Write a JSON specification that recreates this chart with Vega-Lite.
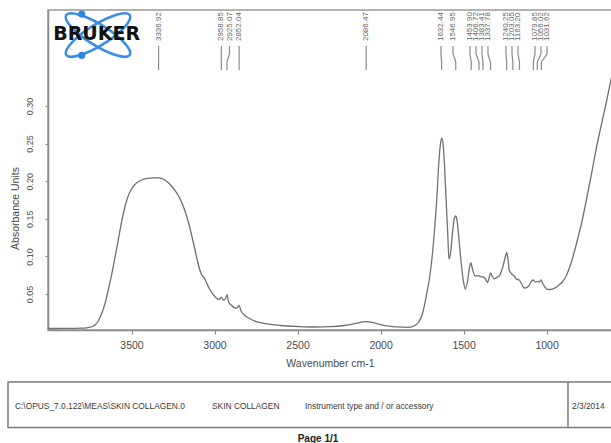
{
  "$schema": "https://vega.github.io/schema/vega-lite/v6.json",
  "width": 564,
  "height": 320,
  "autosize": {"type": "none"},
  "padding": {"left": 48, "top": 10, "right": 0, "bottom": 113},
  "background": "white",
  "config": {
    "font": "Liberation Sans",
    "view": {"stroke": "#9a9a9a", "strokeWidth": 1.5},
    "axis": {"grid": false, "domainColor": "#8a8a8a", "domainWidth": 1.5, "tickColor": "#8a8a8a", "tickWidth": 1.2, "labelColor": "#4a4a4a", "titleColor": "#4a4a4a", "titleFontWeight": "normal"}
  },
  "datasets": {
    "spectrum": [
      {"wn": 4003, "a": 0.0041}, {"wn": 3950, "a": 0.0041}, {"wn": 3900, "a": 0.0042}, {"wn": 3850, "a": 0.0043},
      {"wn": 3800, "a": 0.0045}, {"wn": 3770, "a": 0.005}, {"wn": 3750, "a": 0.0058}, {"wn": 3730, "a": 0.0075},
      {"wn": 3715, "a": 0.0098}, {"wn": 3700, "a": 0.0141}, {"wn": 3685, "a": 0.021}, {"wn": 3670, "a": 0.03},
      {"wn": 3655, "a": 0.041}, {"wn": 3640, "a": 0.0553}, {"wn": 3620, "a": 0.0753}, {"wn": 3600, "a": 0.0979},
      {"wn": 3580, "a": 0.1218}, {"wn": 3560, "a": 0.1457}, {"wn": 3540, "a": 0.1657}, {"wn": 3520, "a": 0.1803},
      {"wn": 3500, "a": 0.1896}, {"wn": 3470, "a": 0.1976}, {"wn": 3440, "a": 0.2016}, {"wn": 3400, "a": 0.2038},
      {"wn": 3370, "a": 0.2045}, {"wn": 3337, "a": 0.2044}, {"wn": 3300, "a": 0.2016}, {"wn": 3270, "a": 0.1963},
      {"wn": 3240, "a": 0.1883}, {"wn": 3210, "a": 0.1777}, {"wn": 3180, "a": 0.1617}, {"wn": 3150, "a": 0.1391},
      {"wn": 3120, "a": 0.1112}, {"wn": 3100, "a": 0.0912}, {"wn": 3085, "a": 0.0795}, {"wn": 3075, "a": 0.0745},
      {"wn": 3062, "a": 0.0715}, {"wn": 3050, "a": 0.066}, {"wn": 3030, "a": 0.0566}, {"wn": 3010, "a": 0.05},
      {"wn": 2990, "a": 0.0447}, {"wn": 2972, "a": 0.0425}, {"wn": 2959, "a": 0.0458}, {"wn": 2946, "a": 0.0418},
      {"wn": 2936, "a": 0.0432}, {"wn": 2925, "a": 0.0487}, {"wn": 2915, "a": 0.0394}, {"wn": 2900, "a": 0.0354},
      {"wn": 2880, "a": 0.032}, {"wn": 2866, "a": 0.0312}, {"wn": 2852, "a": 0.0347}, {"wn": 2840, "a": 0.0274},
      {"wn": 2820, "a": 0.022}, {"wn": 2790, "a": 0.0174}, {"wn": 2750, "a": 0.0134}, {"wn": 2700, "a": 0.0108},
      {"wn": 2600, "a": 0.0081}, {"wn": 2500, "a": 0.0068}, {"wn": 2400, "a": 0.0061}, {"wn": 2300, "a": 0.0066},
      {"wn": 2220, "a": 0.0081}, {"wn": 2150, "a": 0.0108}, {"wn": 2087, "a": 0.0134}, {"wn": 2040, "a": 0.0117},
      {"wn": 1980, "a": 0.0083}, {"wn": 1900, "a": 0.0063}, {"wn": 1840, "a": 0.0057}, {"wn": 1800, "a": 0.0074},
      {"wn": 1770, "a": 0.0128}, {"wn": 1750, "a": 0.022}, {"wn": 1735, "a": 0.0354}, {"wn": 1720, "a": 0.0527},
      {"wn": 1705, "a": 0.0713}, {"wn": 1690, "a": 0.0979}, {"wn": 1675, "a": 0.1351}, {"wn": 1660, "a": 0.1816},
      {"wn": 1648, "a": 0.2282}, {"wn": 1640, "a": 0.2481}, {"wn": 1632, "a": 0.2574}, {"wn": 1625, "a": 0.2521},
      {"wn": 1615, "a": 0.2215}, {"wn": 1605, "a": 0.175}, {"wn": 1595, "a": 0.1285}, {"wn": 1588, "a": 0.0965},
      {"wn": 1580, "a": 0.1019}, {"wn": 1565, "a": 0.135}, {"wn": 1555, "a": 0.151}, {"wn": 1547, "a": 0.1537},
      {"wn": 1540, "a": 0.1484}, {"wn": 1530, "a": 0.1285}, {"wn": 1515, "a": 0.0926}, {"wn": 1500, "a": 0.066},
      {"wn": 1490, "a": 0.0566}, {"wn": 1475, "a": 0.0686}, {"wn": 1465, "a": 0.0846}, {"wn": 1456, "a": 0.0912},
      {"wn": 1445, "a": 0.082}, {"wn": 1430, "a": 0.074}, {"wn": 1410, "a": 0.0745}, {"wn": 1395, "a": 0.0728},
      {"wn": 1380, "a": 0.0726}, {"wn": 1365, "a": 0.0686}, {"wn": 1356, "a": 0.0653}, {"wn": 1345, "a": 0.0726},
      {"wn": 1338, "a": 0.0779}, {"wn": 1328, "a": 0.074}, {"wn": 1316, "a": 0.07}, {"wn": 1300, "a": 0.072},
      {"wn": 1285, "a": 0.074}, {"wn": 1266, "a": 0.0846}, {"wn": 1250, "a": 0.0979}, {"wn": 1240, "a": 0.1052},
      {"wn": 1232, "a": 0.0952}, {"wn": 1225, "a": 0.0819}, {"wn": 1210, "a": 0.0766}, {"wn": 1195, "a": 0.074},
      {"wn": 1182, "a": 0.07}, {"wn": 1165, "a": 0.0686}, {"wn": 1150, "a": 0.0633}, {"wn": 1135, "a": 0.058},
      {"wn": 1120, "a": 0.0586}, {"wn": 1105, "a": 0.0613}, {"wn": 1090, "a": 0.0673}, {"wn": 1080, "a": 0.0686},
      {"wn": 1068, "a": 0.066}, {"wn": 1058, "a": 0.0666}, {"wn": 1045, "a": 0.066}, {"wn": 1034, "a": 0.0686},
      {"wn": 1022, "a": 0.0633}, {"wn": 1010, "a": 0.0593}, {"wn": 995, "a": 0.0562}, {"wn": 980, "a": 0.056},
      {"wn": 965, "a": 0.0566}, {"wn": 945, "a": 0.0586}, {"wn": 925, "a": 0.062}, {"wn": 905, "a": 0.066},
      {"wn": 885, "a": 0.0726}, {"wn": 865, "a": 0.0832}, {"wn": 845, "a": 0.0965}, {"wn": 825, "a": 0.1125},
      {"wn": 805, "a": 0.1298}, {"wn": 785, "a": 0.1484}, {"wn": 765, "a": 0.1697}, {"wn": 745, "a": 0.1923},
      {"wn": 725, "a": 0.2149}, {"wn": 705, "a": 0.2388}, {"wn": 685, "a": 0.2601}, {"wn": 665, "a": 0.28},
      {"wn": 645, "a": 0.3}, {"wn": 625, "a": 0.3213}, {"wn": 606, "a": 0.3416}
    ],
    "peaks": [
      {"wn": 3336.92, "lx": 3336.92, "label": "3336.92"},
      {"wn": 2958.85, "lx": 2958.85, "label": "2958.85"},
      {"wn": 2925.07, "lx": 2909.8, "label": "2925.07"},
      {"wn": 2852.04, "lx": 2852.04, "label": "2852.04"},
      {"wn": 2086.47, "lx": 2086.47, "label": "2086.47"},
      {"wn": 1632.44, "lx": 1636.0, "label": "1632.44"},
      {"wn": 1546.95, "lx": 1563.7, "label": "1546.95"},
      {"wn": 1453.90, "lx": 1461.3, "label": "1453.90"},
      {"wn": 1406.72, "lx": 1425.2, "label": "1406.72"},
      {"wn": 1383.41, "lx": 1389.1, "label": "1383.41"},
      {"wn": 1337.78, "lx": 1352.9, "label": "1337.78"},
      {"wn": 1240.25, "lx": 1244.5, "label": "1240.25"},
      {"wn": 1203.05, "lx": 1208.4, "label": "1203.05"},
      {"wn": 1163.20, "lx": 1172.3, "label": "1163.20"},
      {"wn": 1079.85, "lx": 1069.9, "label": "1079.85"},
      {"wn": 1056.02, "lx": 1033.7, "label": "1056.02"},
      {"wn": 1031.62, "lx": 997.6, "label": "1031.62"}
    ],
    "footer": [
      {"pos": 4201.8, "text": "C:\\OPUS_7.0.122\\MEAS\\SKIN COLLAGEN.0"},
      {"pos": 3015.2, "text": "SKIN COLLAGEN"},
      {"pos": 2455.1, "text": "Instrument type and / or accessory"},
      {"pos": 847.0, "text": "2/3/2014"}
    ],
    "one": [{"name": "BRUKER"}]
  },
  "layer": [
    {
      "data": {"name": "spectrum"},
      "mark": {"type": "line", "color": "#707070", "strokeWidth": 1.3, "interpolate": "monotone"},
      "encoding": {
        "x": {"field": "wn", "type": "quantitative",
          "scale": {"domain": [606, 4003], "reverse": true, "nice": false, "zero": false},
          "axis": {"title": "Wavenumber cm-1", "values": [3500, 3000, 2500, 2000, 1500, 1000], "format": "d",
            "tickSize": 4, "labelPadding": 6, "labelFontSize": 10.5, "labelFlush": false,
            "titleFontSize": 10.5, "titleY": 33, "titleBaseline": "middle", "titleX": 282, "titleAlign": "center"}},
        "y": {"field": "a", "type": "quantitative",
          "scale": {"domain": [0.00213, 0.42766], "nice": false, "zero": false},
          "axis": {"title": "Absorbance Units", "values": [0.05, 0.1, 0.15, 0.2, 0.25, 0.3], "format": ".2f",
            "tickSize": 3, "labelPadding": 11, "labelAngle": -90, "labelAlign": "center", "labelBaseline": "bottom",
            "labelFontSize": 9, "titleFontSize": 10.5, "titleAngle": -90, "titleX": -33, "titleY": 198,
            "titleAlign": "center", "titleBaseline": "middle"}}
      }
    },
    {
      "data": {"name": "peaks"},
      "mark": {"type": "rule", "color": "#8a8a8a", "strokeWidth": 1.2},
      "encoding": {"x": {"field": "lx", "type": "quantitative"}, "y": {"datum": 0.3798}, "y2": {"datum": 0.3691}}
    },
    {
      "data": {"name": "peaks"},
      "mark": {"type": "rule", "color": "#8a8a8a", "strokeWidth": 1.2},
      "encoding": {"x": {"field": "lx", "type": "quantitative"}, "x2": {"field": "wn"}, "y": {"datum": 0.3691}, "y2": {"datum": 0.3585}}
    },
    {
      "data": {"name": "peaks"},
      "mark": {"type": "rule", "color": "#8a8a8a", "strokeWidth": 1.2},
      "encoding": {"x": {"field": "wn", "type": "quantitative"}, "y": {"datum": 0.3585}, "y2": {"datum": 0.3479}}
    },
    {
      "data": {"name": "peaks"},
      "mark": {"type": "text", "angle": 270, "align": "left", "baseline": "middle", "fontSize": 8, "color": "#666666"},
      "encoding": {"x": {"field": "lx", "type": "quantitative"}, "y": {"datum": 0.3864}, "text": {"field": "label"}}
    },
    {
      "data": {"name": "one"},
      "mark": {"type": "point", "shape": "M1,0 C1,0.1546 0.5523,0.28 0,0.28 C-0.5523,0.28 -1,0.1546 -1,0 C-1,-0.1546 -0.5523,-0.28 0,-0.28 C0.5523,-0.28 1,-0.1546 1,0 Z",
        "size": 5625, "angle": 32, "filled": false, "stroke": "#3a8ee6", "strokeWidth": 2.6, "opacity": 1},
      "encoding": {"x": {"datum": 3701.9, "type": "quantitative"}, "y": {"datum": 0.3944, "type": "quantitative"}}
    },
    {
      "data": {"name": "one"},
      "mark": {"type": "point", "shape": "M1,0 C1,0.1546 0.5523,0.28 0,0.28 C-0.5523,0.28 -1,0.1546 -1,0 C-1,-0.1546 -0.5523,-0.28 0,-0.28 C0.5523,-0.28 1,-0.1546 1,0 Z",
        "size": 5625, "angle": -32, "filled": false, "stroke": "#3a8ee6", "strokeWidth": 2.6, "opacity": 1},
      "encoding": {"x": {"datum": 3701.9, "type": "quantitative"}, "y": {"datum": 0.3944, "type": "quantitative"}}
    },
    {
      "data": {"name": "one"},
      "mark": {"type": "point", "shape": "circle", "size": 50, "filled": true, "color": "#2f86e0", "opacity": 1},
      "encoding": {"x": {"datum": 3800, "type": "quantitative"}, "y": {"datum": 0.4222, "type": "quantitative"}}
    },
    {
      "data": {"name": "one"},
      "mark": {"type": "point", "shape": "circle", "size": 50, "filled": true, "color": "#2f86e0", "opacity": 1},
      "encoding": {"x": {"datum": 3800, "type": "quantitative"}, "y": {"datum": 0.3673, "type": "quantitative"}}
    },
    {
      "data": {"name": "one"},
      "mark": {"type": "text", "font": "DejaVu Sans", "fontWeight": "bold", "fontSize": 19, "color": "#111111", "align": "center", "baseline": "middle"},
      "encoding": {"x": {"datum": 3710, "type": "quantitative"}, "y": {"datum": 0.3951, "type": "quantitative"}, "text": {"field": "name"}}
    },
    {
      "data": {"name": "one"},
      "mark": {"type": "rect", "fill": "white", "fillOpacity": 0, "stroke": "#7a7a7a", "strokeWidth": 1.5},
      "encoding": {"x": {"datum": 4243.9, "type": "quantitative"}, "x2": {"datum": 590}, "y": {"datum": -0.067, "type": "quantitative"}, "y2": {"datum": -0.1275}}
    },
    {
      "data": {"name": "one"},
      "mark": {"type": "rule", "color": "#7a7a7a", "strokeWidth": 1.5},
      "encoding": {"x": {"datum": 871.1, "type": "quantitative"}, "y": {"datum": -0.067, "type": "quantitative"}, "y2": {"datum": -0.1275}}
    },
    {
      "data": {"name": "footer"},
      "mark": {"type": "text", "align": "left", "baseline": "middle", "fontSize": 8.4, "color": "#3a3a3a"},
      "encoding": {"x": {"field": "pos", "type": "quantitative"}, "y": {"datum": -0.0989, "type": "quantitative"}, "text": {"field": "text"}}
    },
    {
      "data": {"values": [{"t": "Page 1/1"}]},
      "mark": {"type": "text", "align": "center", "baseline": "middle", "fontSize": 10, "fontWeight": "bold", "color": "#222222"},
      "encoding": {"x": {"datum": 2376.8, "type": "quantitative"}, "y": {"datum": -0.1422, "type": "quantitative"}, "text": {"field": "t"}}
    }
  ]
}
